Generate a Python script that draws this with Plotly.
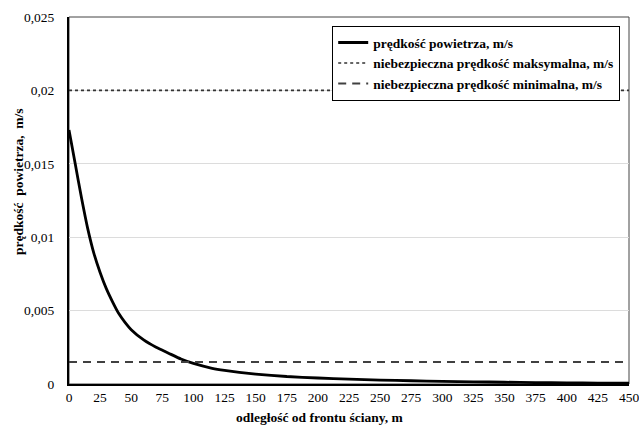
import plotly.graph_objects as go

# distance from wall front, m
distance = [0, 5, 10, 15, 20, 25, 30, 35, 40, 45, 50, 60, 70, 80, 90, 100, 115, 125, 150, 175,
            200, 225, 250, 275, 300, 325, 350, 375, 400, 425, 450]
# air velocity, m/s
velocity = [0.0173, 0.0150, 0.0127, 0.0106, 0.0089, 0.0076, 0.0065, 0.0056, 0.0048, 0.0042, 0.0037,
            0.0030, 0.0025, 0.0021, 0.0017, 0.0014, 0.00107, 0.00093, 0.00068, 0.00051,
            0.00041, 0.00033, 0.00027, 0.00022, 0.00018, 0.00015, 0.00012, 0.00010, 0.00008,
            0.00006, 0.00005]

x_limits = [0, 450]
v_max_danger = [0.02, 0.02]
v_min_danger = [0.0015, 0.0015]

x_ticks = list(range(0, 451, 25))
y_tickvals = [0, 0.005, 0.01, 0.015, 0.02, 0.025]
y_ticktext = ["0", "0,005", "0,01", "0,015", "0,02", "0,025"]

names = ["prędkość powietrza, m/s",
         "niebezpieczna prędkość maksymalna, m/s",
         "niebezpieczna prędkość minimalna, m/s"]

FONT = "Liberation Serif"
L, R, T, B = 69, 10, 17, 41
PW = 639 - L - R
PH = 425 - T - B

fig = go.Figure()
fig.add_trace(go.Scatter(x=distance, y=velocity, mode="lines", name=names[0],
                         line=dict(color="black", width=2.8, shape="spline", smoothing=0.5)))
fig.add_trace(go.Scatter(x=x_limits, y=v_max_danger, mode="lines", name=names[1],
                         line=dict(color="#333333", width=1.6, dash="dot")))
fig.add_trace(go.Scatter(x=x_limits, y=v_min_danger, mode="lines", name=names[2],
                         line=dict(color="#404040", width=2, dash="8px,6px")))

fig.update_layout(
    width=639, height=425,
    margin=dict(l=L, r=R, t=T, b=B),
    paper_bgcolor="white", plot_bgcolor="white",
    font=dict(family=FONT, color="black", size=13.5),
    showlegend=True,
    legend=dict(x=(620 - L) / PW, y=(425 - B - 26) / PH, xanchor="right", yanchor="top",
                bordercolor="black", borderwidth=1.2, bgcolor="white",
                font=dict(family=FONT, size=13.5, color="black", weight="bold"),
                tracegroupgap=0, itemwidth=30),
    xaxis=dict(range=x_limits, tickvals=x_ticks, showgrid=False, zeroline=False,
               showline=True, linecolor="black", linewidth=2, ticks="",
               ticklabeloverflow="allow",
               tickfont=dict(family=FONT, size=13.5), automargin=False),
    yaxis=dict(range=[0, 0.025], tickvals=y_tickvals, ticktext=y_ticktext,
               showgrid=True, gridcolor="#dcdcdc", gridwidth=1, zeroline=False,
               showline=True, linecolor="black", linewidth=2, ticks="",
               ticklabelstandoff=10,
               tickfont=dict(family=FONT, size=13.5), automargin=False),
    shapes=[dict(type="rect", xref="x domain", yref="y domain", x0=0, x1=1, y0=0, y1=1,
                 line=dict(color="#444444", width=1), layer="below")],
    annotations=[
        dict(text="<b>odległość od frontu ściany, m</b>", xref="paper", yref="paper",
             x=(319 - L) / PW, y=-(417 - (425 - B)) / PH, xanchor="center", yanchor="middle",
             showarrow=False, font=dict(family=FONT, size=13.5)),
        dict(text="<b>prędkość  powietrza,  m/s</b>", xref="paper", yref="paper",
             x=-(L - 18) / PW, y=((425 - B) - 182) / PH, xanchor="center", yanchor="middle",
             textangle=-90, showarrow=False, font=dict(family=FONT, size=13.5)),
    ],
)

fig.write_html("out.html")
